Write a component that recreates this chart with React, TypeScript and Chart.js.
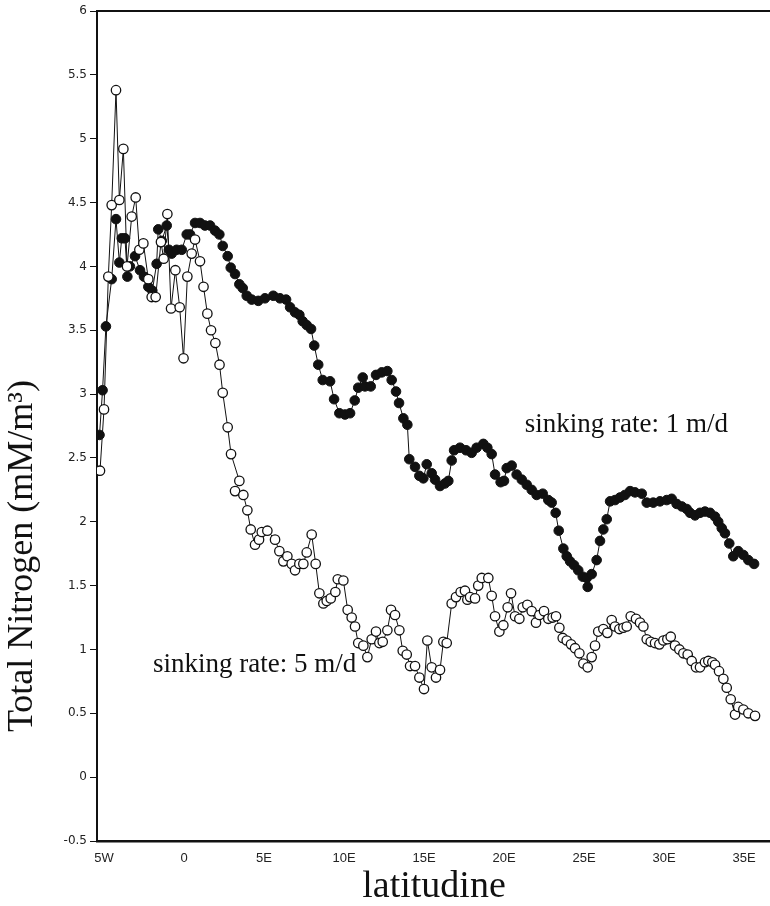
import React, { useEffect, useRef } from "react";
import { Chart, registerables } from "chart.js";

Chart.register(...registerables);

// sinking rate: 1 m/d (filled circles)
const blackLat = [
  -5.28, -5.09, -4.88, -4.52, -4.25, -4.04, -3.89, -3.69, -3.54, -3.38, -3.06, -2.75, -2.5, -2.23, -1.98,
  -1.71, -1.61, -1.39, -1.08, -0.94, -0.77, -0.46, -0.14, 0.17, 0.38, 0.69, 1.0, 1.31, 1.63, 1.94, 2.21,
  2.42, 2.73, 2.92, 3.19, 3.46, 3.67, 3.92, 4.23, 4.64, 5.06, 5.58, 6.0, 6.38, 6.63, 6.94, 7.21, 7.42,
  7.67, 7.94, 8.14, 8.39, 8.67, 9.13, 9.38, 9.71, 10.06, 10.38, 10.67, 10.89, 11.17, 11.31, 11.67, 12.0,
  12.36, 12.71, 12.98, 13.25, 13.44, 13.71, 13.96, 14.08, 14.44, 14.71, 14.96, 15.17, 15.48, 15.69, 16.0,
  16.31, 16.52, 16.73, 16.88, 17.25, 17.63, 17.98, 18.29, 18.71, 18.96, 19.23, 19.44, 19.79, 20.0, 20.17,
  20.48, 20.79, 21.11, 21.42, 21.73, 22.04, 22.42, 22.77, 22.98, 23.23, 23.42, 23.71, 23.92, 24.13, 24.38,
  24.64, 24.92, 25.17, 25.23, 25.48, 25.79, 26.0, 26.21, 26.42, 26.63, 26.94, 27.25, 27.56, 27.88, 28.19,
  28.61, 28.92, 29.33, 29.75, 30.17, 30.48, 30.79, 31.11, 31.42, 31.63, 31.94, 32.25, 32.56, 32.88, 33.19,
  33.39, 33.61, 33.81, 34.08, 34.33, 34.64, 34.96, 35.27, 35.63,
];
const blackVal = [
  2.68, 3.03, 3.53, 3.9, 4.37, 4.03, 4.22, 4.22, 3.92, 4.0, 4.08, 3.97, 3.92, 3.84, 3.81,
  4.02, 4.29, 4.2, 4.32, 4.13, 4.1, 4.13, 4.13, 4.25, 4.25, 4.34, 4.34, 4.32, 4.32, 4.28, 4.25,
  4.16, 4.08, 3.99, 3.94, 3.86, 3.83, 3.77, 3.74, 3.73, 3.75, 3.77, 3.75, 3.74, 3.68, 3.64, 3.62, 3.57,
  3.54, 3.51, 3.38, 3.23, 3.11, 3.1, 2.96, 2.85, 2.84, 2.85, 2.95, 3.05, 3.13, 3.06, 3.06, 3.15,
  3.17, 3.18, 3.11, 3.02, 2.93, 2.81, 2.76, 2.49, 2.43, 2.36, 2.34, 2.45, 2.38, 2.33, 2.28,
  2.3, 2.32, 2.48, 2.56, 2.58, 2.56, 2.54, 2.58, 2.61, 2.58, 2.53, 2.37, 2.31, 2.32, 2.42,
  2.44, 2.37, 2.33, 2.29, 2.25, 2.21, 2.22, 2.17, 2.15, 2.07, 1.93, 1.79, 1.73, 1.69, 1.66,
  1.62, 1.57, 1.56, 1.49, 1.59, 1.7, 1.85, 1.94, 2.02, 2.16, 2.17, 2.19, 2.21, 2.24, 2.23,
  2.22, 2.15, 2.15, 2.16, 2.17, 2.18, 2.14, 2.12, 2.1, 2.07, 2.05, 2.07, 2.08, 2.07, 2.04,
  2.0, 1.95, 1.91, 1.83, 1.73, 1.77, 1.74, 1.7, 1.67,
];

// sinking rate: 5 m/d (open circles)
const whiteLat = [
  -5.25, -5.0, -4.73, -4.52, -4.25, -4.04, -3.79, -3.56, -3.27, -3.02, -2.79, -2.54, -2.23, -2.02, -1.77,
  -1.44, -1.27, -1.04, -0.81, -0.54, -0.27, -0.03, 0.21, 0.48, 0.69, 1.0, 1.22, 1.46, 1.69, 1.96, 2.22,
  2.42, 2.73, 2.94, 3.46, 3.19, 3.71, 3.96, 4.17, 4.44, 4.69, 4.86, 5.21, 5.69, 5.96, 6.21, 6.46, 6.73,
  6.94, 7.21, 7.46, 7.67, 7.98, 8.23, 8.46, 8.71, 8.92, 9.17, 9.46, 9.61, 9.96, 10.23, 10.48, 10.69,
  10.89, 11.21, 11.46, 11.73, 12.0, 12.21, 12.42, 12.71, 12.94, 13.19, 13.46, 13.67, 13.92, 14.13, 14.44,
  14.71, 15.0, 15.21, 15.48, 15.75, 16.0, 16.21, 16.42, 16.73, 17.0, 17.29, 17.56, 17.71, 17.88, 18.19,
  18.39, 18.61, 19.02, 19.23, 19.44, 19.71, 19.96, 20.23, 20.44, 20.69, 20.96, 21.17, 21.46, 21.73, 22.0,
  22.21, 22.5, 22.77, 23.04, 23.25, 23.46, 23.67, 23.92, 24.19, 24.44, 24.71, 24.96, 25.23, 25.48, 25.69,
  25.89, 26.21, 26.46, 26.73, 26.94, 27.21, 27.46, 27.67, 27.92, 28.25, 28.5, 28.71, 28.92, 29.17, 29.44,
  29.71, 29.96, 30.21, 30.42, 30.69, 30.96, 31.21, 31.48, 31.73, 32.0, 32.25, 32.56, 32.77, 33.02, 33.19,
  33.44, 33.71, 33.92, 34.17, 34.44, 34.64, 34.96, 35.27, 35.69,
];
const whiteVal = [
  2.4, 2.88, 3.92, 4.48, 5.38, 4.52, 4.92, 4.0, 4.39, 4.54, 4.13, 4.18, 3.9, 3.76, 3.76,
  4.19, 4.06, 4.41, 3.67, 3.97, 3.68, 3.28, 3.92, 4.1, 4.21, 4.04, 3.84, 3.63, 3.5, 3.4, 3.23,
  3.01, 2.74, 2.53, 2.32, 2.24, 2.21, 2.09, 1.94, 1.82, 1.86, 1.92, 1.93, 1.86, 1.77, 1.69, 1.73, 1.67,
  1.62, 1.67, 1.67, 1.76, 1.9, 1.67, 1.44, 1.36, 1.38, 1.4, 1.45, 1.55, 1.54, 1.31, 1.25, 1.18,
  1.05, 1.03, 0.94, 1.08, 1.14, 1.05, 1.06, 1.15, 1.31, 1.27, 1.15, 0.99, 0.96, 0.87, 0.87,
  0.78, 0.69, 1.07, 0.86, 0.78, 0.84, 1.06, 1.05, 1.36, 1.41, 1.45, 1.46, 1.39, 1.41, 1.4,
  1.5, 1.56, 1.56, 1.42, 1.26, 1.14, 1.19, 1.33, 1.44, 1.26, 1.24, 1.33, 1.35, 1.3, 1.21,
  1.27, 1.3, 1.24, 1.25, 1.26, 1.17, 1.09, 1.07, 1.04, 1.01, 0.97, 0.89, 0.86, 0.94, 1.03,
  1.14, 1.16, 1.13, 1.23, 1.18, 1.16, 1.17, 1.18, 1.26, 1.24, 1.21, 1.18, 1.08, 1.06, 1.05,
  1.04, 1.07, 1.08, 1.1, 1.03, 1.0, 0.97, 0.96, 0.91, 0.86, 0.86, 0.9, 0.91, 0.9, 0.88,
  0.83, 0.77, 0.7, 0.61, 0.49, 0.55, 0.53, 0.5, 0.48,
];

const xTicks = [-5, 0, 5, 10, 15, 20, 25, 30, 35];
const yTicks = [-0.5, 0, 0.5, 1, 1.5, 2, 2.5, 3, 3.5, 4, 4.5, 5, 5.5, 6];

const yTitle = "Total Nitrogen (mM/m³)";
const xTitle = "latitudine";
const label1 = { text: "sinking rate: 1 m/d", lat: 21.3, val: 2.76 };
const label5 = { text: "sinking rate: 5 m/d", lat: -1.94, val: 0.88 };

const fmtLat = (v: number) => (v < 0 ? `${-v}W` : v === 0 ? "0" : `${v}E`);

const decorPlugin = {
  id: "decor",
  afterDraw(chart: any) {
    const { ctx, chartArea, scales } = chart;
    ctx.save();
    // top frame line
    ctx.strokeStyle = "#111";
    ctx.lineWidth = 2;
    ctx.beginPath();
    ctx.moveTo(chartArea.left, chartArea.top);
    ctx.lineTo(chart.width, chartArea.top);
    ctx.stroke();

    ctx.fillStyle = "#111";
    // y title
    ctx.save();
    ctx.translate(32, 556);
    ctx.rotate(-Math.PI / 2);
    ctx.font = "36px 'Liberation Serif', 'Times New Roman', serif";
    ctx.textAlign = "center";
    ctx.textBaseline = "alphabetic";
    ctx.fillText(yTitle, 0, 0);
    ctx.restore();

    // x title
    ctx.font = "38px 'Liberation Serif', 'Times New Roman', serif";
    ctx.textAlign = "center";
    ctx.textBaseline = "alphabetic";
    ctx.fillText(xTitle, 434, 897);

    // series labels
    ctx.font = "27px 'Liberation Serif', 'Times New Roman', serif";
    ctx.textAlign = "left";
    ctx.textBaseline = "middle";
    for (const l of [label1, label5]) {
      ctx.fillText(l.text, scales.x.getPixelForValue(l.lat), scales.y.getPixelForValue(l.val));
    }
    ctx.restore();
  },
};

export default function App() {
  const ref = useRef<HTMLCanvasElement | null>(null);
  useEffect(() => {
    if (!ref.current) return;
    const chart = new Chart(ref.current, {
      type: "line",
      data: {
        datasets: [
          {
            label: "sinking rate: 5 m/d",
            data: whiteLat.map((x, i) => ({ x, y: whiteVal[i] })),
            borderColor: "#111",
            borderWidth: 1,
            pointRadius: 4.7,
            pointBorderWidth: 1.3,
            pointBackgroundColor: "#fff",
            pointBorderColor: "#111",
            tension: 0,
          },
          {
            label: "sinking rate: 1 m/d",
            data: blackLat.map((x, i) => ({ x, y: blackVal[i] })),
            borderColor: "#111",
            borderWidth: 1,
            pointRadius: 4.8,
            pointBorderWidth: 1,
            pointBackgroundColor: "#111",
            pointBorderColor: "#111",
            tension: 0,
          },
        ],
      },
      options: {
        responsive: false,
        animation: false,
        layout: { autoPadding: false, padding: { top: 11, right: 0, left: 0, bottom: 0 } },
        plugins: { legend: { display: false }, tooltip: { enabled: false } },
        scales: {
          x: {
            type: "linear",
            min: -5.4375,
            max: 36.625,
            afterFit: (s: any) => {
              s.height = 65;
            },
            afterBuildTicks: (s: any) => {
              s.ticks = xTicks.map((v) => ({ value: v }));
            },
            grid: { display: true, drawOnChartArea: false, drawTicks: false, color: "#111" },
            border: { display: true, color: "#111", width: 2.5 },
            ticks: {
              padding: 10,
              color: "#222",
              maxRotation: 0,
              autoSkip: false,
              font: { family: "'Liberation Sans Narrow', 'Liberation Sans', sans-serif", size: 13 },
              callback: (v: any) => fmtLat(Number(v)),
            },
          },
          y: {
            type: "linear",
            min: -0.5,
            max: 6,
            afterFit: (s: any) => {
              s.width = 97;
            },
            afterBuildTicks: (s: any) => {
              s.ticks = yTicks.map((v) => ({ value: v }));
            },
            grid: { display: true, drawOnChartArea: false, drawTicks: true, tickLength: 7, color: "#111" },
            border: { display: true, color: "#111", width: 2 },
            ticks: {
              padding: 3,
              color: "#222",
              autoSkip: false,
              font: { family: "'DejaVu Sans', sans-serif", size: 12 },
              callback: (v: any) => String(v),
            },
          },
        },
      },
      plugins: [decorPlugin],
    } as any);
    return () => chart.destroy();
  }, []);
  return (
    <div style={{ position: "absolute", left: 0, top: 0, width: 770, height: 906, background: "#fff" }}>
      <canvas ref={ref} width={770} height={906} />
    </div>
  );
}
